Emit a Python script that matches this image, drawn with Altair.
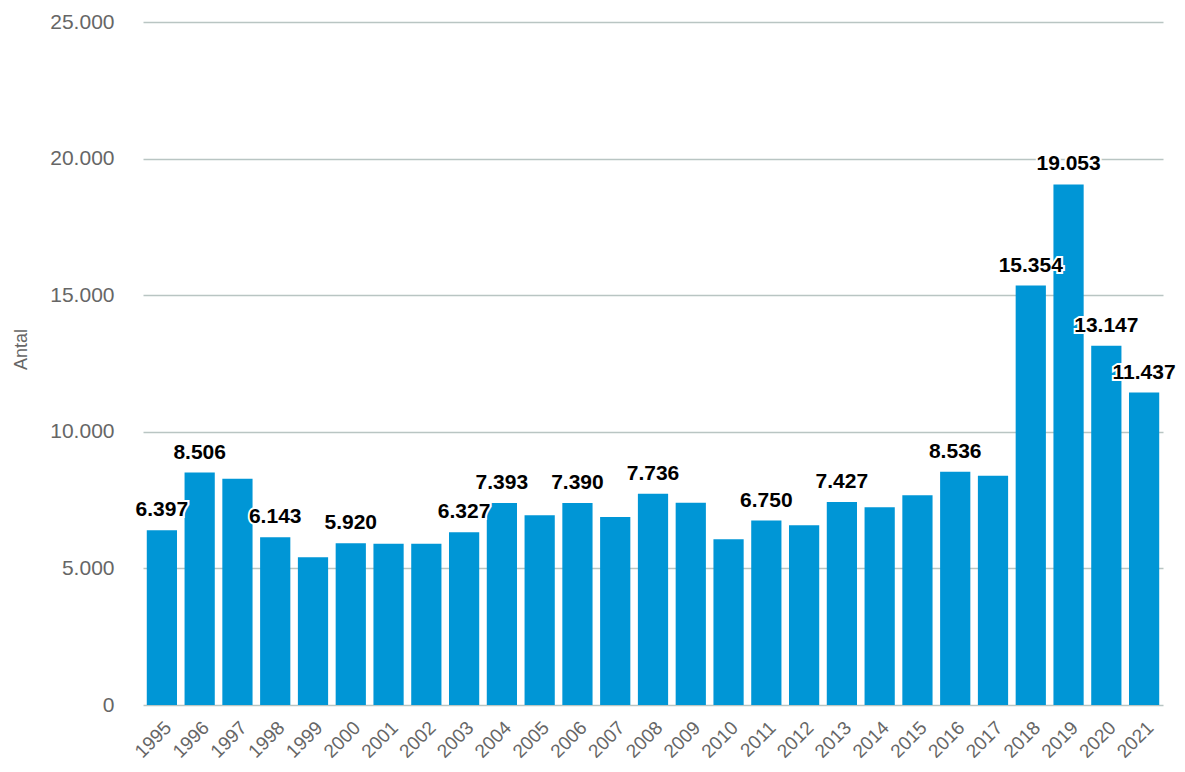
import altair as alt
import pandas as pd

years = [str(y) for y in range(1995, 2022)]
values = [6397, 8506, 8280, 6143, 5410, 5920, 5900, 5900, 6327, 7393,
          6950, 7390, 6880, 7736, 7400, 6070, 6750, 6580, 7427, 7240,
          7680, 8536, 8390, 15354, 19053, 13147, 11437]
labelled = [1, 1, 0, 1, 0, 1, 0, 0, 1, 1,
            0, 1, 0, 1, 0, 0, 1, 0, 1, 0,
            0, 1, 0, 1, 1, 1, 1]

df = pd.DataFrame({"year": years, "value": values, "show": labelled})

font = "Liberation Sans"

base = alt.Chart(df)

yscale = alt.Scale(domain=[0, 25000], nice=False)

bars = base.mark_bar(color="#0096d6").encode(
    x=alt.X("year:N", sort=None, title=None,
            scale=alt.Scale(paddingInner=0.2, paddingOuter=0.1),
            axis=alt.Axis(labelAngle=-45, labelFontSize=19, labelColor="#666666",
                          labelFont=font, ticks=False, domain=False, labelPadding=13,
                          grid=False)),
    y=alt.Y("value:Q", title="Antal", scale=yscale,
            axis=alt.Axis(values=[0, 5000, 10000, 15000, 20000, 25000],
                          labelExpr="replace(format(datum.value, ',d'), ',', '.')",
                          labelFontSize=21, labelColor="#666666", labelFont=font,
                          labelPadding=29, ticks=False, domain=False,
                          gridColor="#b9c5c3", gridWidth=1.5,
                          titleFont=font, titleFontSize=18, titleColor="#666666",
                          titleFontWeight="normal", titleX=-122, titleY=327,
                          titleAngle=-90, titleAlign="center", titleBaseline="middle")),
)

lab = base.transform_filter("datum.show == 1").transform_calculate(
    txt="replace(format(datum.value, ',d'), ',', '.')"
)

halo = lab.mark_text(font=font, fontSize=21, fontWeight="bold", baseline="alphabetic",
                     dy=-14, stroke="white", strokeWidth=4, color="white").encode(
    x=alt.X("year:N", sort=None), y=alt.Y("value:Q", scale=yscale), text="txt:N")
text = lab.mark_text(font=font, fontSize=21, fontWeight="bold", baseline="alphabetic",
                     dy=-14, color="#000000").encode(
    x=alt.X("year:N", sort=None), y=alt.Y("value:Q", scale=yscale), text="txt:N")

chart = alt.layer(bars, halo, text).properties(
    width=1020, height=683,
    autosize=alt.AutoSizeParams(type="none"),
    padding={"left": 135, "top": 14, "right": 14, "bottom": 59},
).configure(background="white").configure_view(strokeWidth=0, stroke="transparent")

chart.save("out.html", embed_options={"renderer": "svg", "actions": False})
